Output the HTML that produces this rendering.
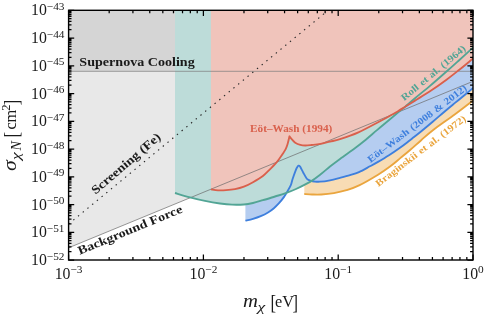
<!DOCTYPE html>
<html><head><meta charset="utf-8"><title>plot</title><style>html,body{margin:0;padding:0;background:#fff}svg{display:block}</style></head><body>
<svg width="486" height="317" viewBox="0 0 486 317">
<rect width="486" height="317" fill="#fff"/>
<defs><clipPath id="c"><rect x="68.6" y="10.3" width="404.4" height="249.7"/></clipPath></defs>
<g clip-path="url(#c)">
<path d="M68.6 247.8 L473 81.3333 L473 10.3 L68.6 10.3 Z" fill="#e8e8e8"/>
<rect x="68.6" y="10.3" width="404.4" height="61" fill="#d5d5d5"/>
<path d="M304.30 194.00 C305.58 194.08 309.17 194.42 312.00 194.50 C314.83 194.58 317.65 194.73 321.30 194.50 C324.95 194.27 329.70 193.82 333.90 193.10 C338.10 192.38 342.30 191.48 346.50 190.20 C350.70 188.92 353.85 187.98 359.10 185.40 C364.35 182.82 372.85 177.85 378.00 174.70 C383.15 171.55 386.33 169.22 390.00 166.50 C393.67 163.78 396.65 161.15 400.00 158.40 C403.35 155.65 406.57 153.03 410.10 150.00 C413.63 146.97 417.40 143.50 421.20 140.20 C425.00 136.90 427.27 134.52 432.90 130.20 C438.53 125.88 448.28 119.27 455.00 114.30 C461.72 109.33 470.17 102.72 473.20 100.40 L473.00 10.30 L304.30 10.30 Z" fill="#f8dcb4"/>
<path d="M245.40 220.70 C246.67 220.40 250.45 219.65 253.00 218.90 C255.55 218.15 258.20 217.27 260.70 216.20 C263.20 215.13 265.80 213.83 268.00 212.50 C270.20 211.17 272.07 209.75 273.90 208.20 C275.73 206.65 277.37 205.00 279.00 203.20 C280.63 201.40 282.48 199.07 283.70 197.40 C284.92 195.73 285.13 195.20 286.30 193.20 C287.47 191.20 289.65 187.77 290.70 185.40 C291.75 183.03 291.75 181.55 292.60 179.00 C293.45 176.45 295.00 172.12 295.80 170.10 C296.60 168.08 296.98 167.63 297.40 166.90 C297.82 166.17 298.15 165.90 298.30 165.70 C298.47 165.72 298.98 165.62 299.30 165.80 C299.62 165.98 299.53 165.65 300.20 166.80 C300.87 167.95 302.25 170.78 303.30 172.70 C304.35 174.62 305.63 177.10 306.50 178.30 C307.37 179.50 307.75 179.47 308.50 179.90 C309.25 180.33 310.07 180.63 311.00 180.90 C311.93 181.17 312.60 181.37 314.10 181.50 C315.60 181.63 317.35 181.90 320.00 181.70 C322.65 181.50 326.67 180.93 330.00 180.30 C333.33 179.67 336.67 178.75 340.00 177.90 C343.33 177.05 346.83 176.17 350.00 175.20 C353.17 174.23 355.67 173.58 359.00 172.10 C362.33 170.62 366.83 168.00 370.00 166.30 C373.17 164.60 374.83 163.73 378.00 161.90 C381.17 160.07 385.33 157.65 389.00 155.30 C392.67 152.95 396.83 150.05 400.00 147.80 C403.17 145.55 405.67 143.60 408.00 141.80 C410.33 140.00 411.83 138.72 414.00 137.00 C416.17 135.28 417.83 134.08 421.00 131.50 C424.17 128.92 429.00 124.88 433.00 121.50 C437.00 118.12 441.33 114.30 445.00 111.20 C448.67 108.10 451.67 105.65 455.00 102.90 C458.33 100.15 461.97 97.18 465.00 94.70 C468.03 92.22 471.83 89.12 473.20 88.00 L473.00 10.30 L245.40 10.30 Z" fill="#b5cdf0"/>
<path d="M175.00 193.00 C177.50 193.72 185.00 195.98 190.00 197.30 C195.00 198.62 200.00 199.87 205.00 200.90 C210.00 201.93 215.50 202.87 220.00 203.50 C224.50 204.13 228.02 204.53 232.00 204.70 C235.98 204.87 240.40 204.78 243.90 204.50 C247.40 204.22 249.83 203.72 253.00 203.00 C256.17 202.28 259.23 201.28 262.90 200.20 C266.57 199.12 271.32 197.63 275.00 196.50 C278.68 195.37 281.50 194.65 285.00 193.40 C288.50 192.15 291.75 190.97 296.00 189.00 C300.25 187.03 306.28 184.13 310.50 181.60 C314.72 179.07 318.05 176.32 321.30 173.80 C324.55 171.28 326.88 168.98 330.00 166.50 C333.12 164.02 335.80 161.98 340.00 158.90 C344.20 155.82 351.17 150.98 355.20 148.00 C359.23 145.02 360.52 144.02 364.20 141.00 C367.88 137.98 373.00 133.52 377.30 129.90 C381.60 126.28 386.22 122.47 390.00 119.30 C393.78 116.13 397.47 113.02 400.00 110.90 C402.53 108.78 402.70 108.72 405.20 106.60 C407.70 104.48 410.87 101.65 415.00 98.20 C419.13 94.75 424.75 90.35 430.00 85.90 C435.25 81.45 441.65 75.78 446.50 71.50 C451.35 67.22 454.65 64.22 459.10 60.20 C463.55 56.18 470.85 49.53 473.20 47.40 L473.00 10.30 L175.00 10.30 Z" fill="#bddcd9"/>
<path d="M210.90 189.40 C212.08 189.55 215.48 190.17 218.00 190.30 C220.52 190.43 223.17 190.38 226.00 190.20 C228.83 190.02 232.02 189.78 235.00 189.20 C237.98 188.62 240.90 187.87 243.90 186.70 C246.90 185.53 249.83 183.98 253.00 182.20 C256.17 180.42 260.08 178.15 262.90 176.00 C265.72 173.85 267.88 171.27 269.90 169.30 C271.92 167.33 273.48 165.88 275.00 164.20 C276.52 162.52 277.73 160.90 279.00 159.20 C280.27 157.50 281.47 155.73 282.60 154.00 C283.73 152.27 284.97 150.47 285.80 148.80 C286.63 147.13 286.98 146.08 287.60 144.00 C288.22 141.92 289.18 137.58 289.50 136.30 C289.68 136.57 290.17 137.35 290.60 137.90 C291.03 138.45 291.33 138.80 292.10 139.60 C292.87 140.40 293.83 141.82 295.20 142.70 C296.57 143.58 298.62 144.43 300.30 144.90 C301.98 145.37 303.42 145.48 305.30 145.50 C307.18 145.52 309.08 145.27 311.60 145.00 C314.12 144.73 317.33 144.47 320.40 143.90 C323.47 143.33 326.73 142.38 330.00 141.60 C333.27 140.82 335.27 140.75 340.00 139.20 C344.73 137.65 351.73 135.30 358.40 132.30 C365.07 129.30 374.73 123.95 380.00 121.20 C385.27 118.45 387.00 117.47 390.00 115.80 C393.00 114.13 395.47 112.72 398.00 111.20 C400.53 109.68 402.37 108.47 405.20 106.70 C408.03 104.93 410.87 103.17 415.00 100.60 C419.13 98.03 424.75 94.78 430.00 91.30 C435.25 87.82 441.67 83.25 446.50 79.70 C451.33 76.15 455.22 73.00 459.00 70.00 C462.78 67.00 466.83 63.63 469.20 61.70 C471.57 59.77 472.53 58.95 473.20 58.40 L473.00 10.30 L210.90 10.30 Z" fill="#f0c4bb"/>
<line x1="68.6" y1="71.3" x2="473" y2="71.3" stroke="#7a7a7a" stroke-width="0.7"/>
<line x1="68.6" y1="247.8" x2="473" y2="81.3333" stroke="#6a6a6a" stroke-width="0.7"/>
<line x1="68.6" y1="224" x2="328.172" y2="10.3" stroke="#2a2a2a" stroke-width="1.15" stroke-dasharray="1.4 4.7"/>
<path d="M304.30 194.00 C305.58 194.08 309.17 194.42 312.00 194.50 C314.83 194.58 317.65 194.73 321.30 194.50 C324.95 194.27 329.70 193.82 333.90 193.10 C338.10 192.38 342.30 191.48 346.50 190.20 C350.70 188.92 353.85 187.98 359.10 185.40 C364.35 182.82 372.85 177.85 378.00 174.70 C383.15 171.55 386.33 169.22 390.00 166.50 C393.67 163.78 396.65 161.15 400.00 158.40 C403.35 155.65 406.57 153.03 410.10 150.00 C413.63 146.97 417.40 143.50 421.20 140.20 C425.00 136.90 427.27 134.52 432.90 130.20 C438.53 125.88 448.28 119.27 455.00 114.30 C461.72 109.33 470.17 102.72 473.20 100.40" fill="none" stroke="#eaa53e" stroke-width="1.85" stroke-linejoin="round"/>
<path d="M245.40 220.70 C246.67 220.40 250.45 219.65 253.00 218.90 C255.55 218.15 258.20 217.27 260.70 216.20 C263.20 215.13 265.80 213.83 268.00 212.50 C270.20 211.17 272.07 209.75 273.90 208.20 C275.73 206.65 277.37 205.00 279.00 203.20 C280.63 201.40 282.48 199.07 283.70 197.40 C284.92 195.73 285.13 195.20 286.30 193.20 C287.47 191.20 289.65 187.77 290.70 185.40 C291.75 183.03 291.75 181.55 292.60 179.00 C293.45 176.45 295.00 172.12 295.80 170.10 C296.60 168.08 296.98 167.63 297.40 166.90 C297.82 166.17 298.15 165.90 298.30 165.70 C298.47 165.72 298.98 165.62 299.30 165.80 C299.62 165.98 299.53 165.65 300.20 166.80 C300.87 167.95 302.25 170.78 303.30 172.70 C304.35 174.62 305.63 177.10 306.50 178.30 C307.37 179.50 307.75 179.47 308.50 179.90 C309.25 180.33 310.07 180.63 311.00 180.90 C311.93 181.17 312.60 181.37 314.10 181.50 C315.60 181.63 317.35 181.90 320.00 181.70 C322.65 181.50 326.67 180.93 330.00 180.30 C333.33 179.67 336.67 178.75 340.00 177.90 C343.33 177.05 346.83 176.17 350.00 175.20 C353.17 174.23 355.67 173.58 359.00 172.10 C362.33 170.62 366.83 168.00 370.00 166.30 C373.17 164.60 374.83 163.73 378.00 161.90 C381.17 160.07 385.33 157.65 389.00 155.30 C392.67 152.95 396.83 150.05 400.00 147.80 C403.17 145.55 405.67 143.60 408.00 141.80 C410.33 140.00 411.83 138.72 414.00 137.00 C416.17 135.28 417.83 134.08 421.00 131.50 C424.17 128.92 429.00 124.88 433.00 121.50 C437.00 118.12 441.33 114.30 445.00 111.20 C448.67 108.10 451.67 105.65 455.00 102.90 C458.33 100.15 461.97 97.18 465.00 94.70 C468.03 92.22 471.83 89.12 473.20 88.00" fill="none" stroke="#3e7fdd" stroke-width="1.85" stroke-linejoin="round"/>
<path d="M175.00 193.00 C177.50 193.72 185.00 195.98 190.00 197.30 C195.00 198.62 200.00 199.87 205.00 200.90 C210.00 201.93 215.50 202.87 220.00 203.50 C224.50 204.13 228.02 204.53 232.00 204.70 C235.98 204.87 240.40 204.78 243.90 204.50 C247.40 204.22 249.83 203.72 253.00 203.00 C256.17 202.28 259.23 201.28 262.90 200.20 C266.57 199.12 271.32 197.63 275.00 196.50 C278.68 195.37 281.50 194.65 285.00 193.40 C288.50 192.15 291.75 190.97 296.00 189.00 C300.25 187.03 306.28 184.13 310.50 181.60 C314.72 179.07 318.05 176.32 321.30 173.80 C324.55 171.28 326.88 168.98 330.00 166.50 C333.12 164.02 335.80 161.98 340.00 158.90 C344.20 155.82 351.17 150.98 355.20 148.00 C359.23 145.02 360.52 144.02 364.20 141.00 C367.88 137.98 373.00 133.52 377.30 129.90 C381.60 126.28 386.22 122.47 390.00 119.30 C393.78 116.13 397.47 113.02 400.00 110.90 C402.53 108.78 402.70 108.72 405.20 106.60 C407.70 104.48 410.87 101.65 415.00 98.20 C419.13 94.75 424.75 90.35 430.00 85.90 C435.25 81.45 441.65 75.78 446.50 71.50 C451.35 67.22 454.65 64.22 459.10 60.20 C463.55 56.18 470.85 49.53 473.20 47.40" fill="none" stroke="#52a595" stroke-width="1.85" stroke-linejoin="round"/>
<path d="M210.90 189.40 C212.08 189.55 215.48 190.17 218.00 190.30 C220.52 190.43 223.17 190.38 226.00 190.20 C228.83 190.02 232.02 189.78 235.00 189.20 C237.98 188.62 240.90 187.87 243.90 186.70 C246.90 185.53 249.83 183.98 253.00 182.20 C256.17 180.42 260.08 178.15 262.90 176.00 C265.72 173.85 267.88 171.27 269.90 169.30 C271.92 167.33 273.48 165.88 275.00 164.20 C276.52 162.52 277.73 160.90 279.00 159.20 C280.27 157.50 281.47 155.73 282.60 154.00 C283.73 152.27 284.97 150.47 285.80 148.80 C286.63 147.13 286.98 146.08 287.60 144.00 C288.22 141.92 289.18 137.58 289.50 136.30 C289.68 136.57 290.17 137.35 290.60 137.90 C291.03 138.45 291.33 138.80 292.10 139.60 C292.87 140.40 293.83 141.82 295.20 142.70 C296.57 143.58 298.62 144.43 300.30 144.90 C301.98 145.37 303.42 145.48 305.30 145.50 C307.18 145.52 309.08 145.27 311.60 145.00 C314.12 144.73 317.33 144.47 320.40 143.90 C323.47 143.33 326.73 142.38 330.00 141.60 C333.27 140.82 335.27 140.75 340.00 139.20 C344.73 137.65 351.73 135.30 358.40 132.30 C365.07 129.30 374.73 123.95 380.00 121.20 C385.27 118.45 387.00 117.47 390.00 115.80 C393.00 114.13 395.47 112.72 398.00 111.20 C400.53 109.68 402.37 108.47 405.20 106.70 C408.03 104.93 410.87 103.17 415.00 100.60 C419.13 98.03 424.75 94.78 430.00 91.30 C435.25 87.82 441.67 83.25 446.50 79.70 C451.33 76.15 455.22 73.00 459.00 70.00 C462.78 67.00 466.83 63.63 469.20 61.70 C471.57 59.77 472.53 58.95 473.20 58.40" fill="none" stroke="#d9604c" stroke-width="1.85" stroke-linejoin="round"/>
</g>
<path d="M68.60 260 v-5.6 M68.60 10.3 v5.6 M109.18 260 v-2.9 M109.18 10.3 v2.9 M132.92 260 v-2.9 M132.92 10.3 v2.9 M149.76 260 v-2.9 M149.76 10.3 v2.9 M162.82 260 v-2.9 M162.82 10.3 v2.9 M173.49 260 v-2.9 M173.49 10.3 v2.9 M182.52 260 v-2.9 M182.52 10.3 v2.9 M190.34 260 v-2.9 M190.34 10.3 v2.9 M197.23 260 v-2.9 M197.23 10.3 v2.9 M203.40 260 v-5.6 M203.40 10.3 v5.6 M243.98 260 v-2.9 M243.98 10.3 v2.9 M267.72 260 v-2.9 M267.72 10.3 v2.9 M284.56 260 v-2.9 M284.56 10.3 v2.9 M297.62 260 v-2.9 M297.62 10.3 v2.9 M308.29 260 v-2.9 M308.29 10.3 v2.9 M317.32 260 v-2.9 M317.32 10.3 v2.9 M325.14 260 v-2.9 M325.14 10.3 v2.9 M332.03 260 v-2.9 M332.03 10.3 v2.9 M338.20 260 v-5.6 M338.20 10.3 v5.6 M378.78 260 v-2.9 M378.78 10.3 v2.9 M402.52 260 v-2.9 M402.52 10.3 v2.9 M419.36 260 v-2.9 M419.36 10.3 v2.9 M432.42 260 v-2.9 M432.42 10.3 v2.9 M443.09 260 v-2.9 M443.09 10.3 v2.9 M452.12 260 v-2.9 M452.12 10.3 v2.9 M459.94 260 v-2.9 M459.94 10.3 v2.9 M466.83 260 v-2.9 M466.83 10.3 v2.9 M473.00 260 v-5.6 M473.00 10.3 v5.6 M68.6 10.30 h5.6 M473 10.30 h-5.6 M68.6 29.69 h2.9 M473 29.69 h-2.9 M68.6 24.81 h2.9 M473 24.81 h-2.9 M68.6 21.34 h2.9 M473 21.34 h-2.9 M68.6 18.65 h2.9 M473 18.65 h-2.9 M68.6 16.46 h2.9 M473 16.46 h-2.9 M68.6 14.60 h2.9 M473 14.60 h-2.9 M68.6 12.99 h2.9 M473 12.99 h-2.9 M68.6 11.57 h2.9 M473 11.57 h-2.9 M68.6 38.04 h5.6 M473 38.04 h-5.6 M68.6 57.44 h2.9 M473 57.44 h-2.9 M68.6 52.55 h2.9 M473 52.55 h-2.9 M68.6 49.09 h2.9 M473 49.09 h-2.9 M68.6 46.40 h2.9 M473 46.40 h-2.9 M68.6 44.20 h2.9 M473 44.20 h-2.9 M68.6 42.34 h2.9 M473 42.34 h-2.9 M68.6 40.73 h2.9 M473 40.73 h-2.9 M68.6 39.31 h2.9 M473 39.31 h-2.9 M68.6 65.79 h5.6 M473 65.79 h-5.6 M68.6 85.18 h2.9 M473 85.18 h-2.9 M68.6 80.30 h2.9 M473 80.30 h-2.9 M68.6 76.83 h2.9 M473 76.83 h-2.9 M68.6 74.14 h2.9 M473 74.14 h-2.9 M68.6 71.94 h2.9 M473 71.94 h-2.9 M68.6 70.09 h2.9 M473 70.09 h-2.9 M68.6 68.48 h2.9 M473 68.48 h-2.9 M68.6 67.06 h2.9 M473 67.06 h-2.9 M68.6 93.53 h5.6 M473 93.53 h-5.6 M68.6 112.93 h2.9 M473 112.93 h-2.9 M68.6 108.04 h2.9 M473 108.04 h-2.9 M68.6 104.57 h2.9 M473 104.57 h-2.9 M68.6 101.89 h2.9 M473 101.89 h-2.9 M68.6 99.69 h2.9 M473 99.69 h-2.9 M68.6 97.83 h2.9 M473 97.83 h-2.9 M68.6 96.22 h2.9 M473 96.22 h-2.9 M68.6 94.80 h2.9 M473 94.80 h-2.9 M68.6 121.28 h5.6 M473 121.28 h-5.6 M68.6 140.67 h2.9 M473 140.67 h-2.9 M68.6 135.78 h2.9 M473 135.78 h-2.9 M68.6 132.32 h2.9 M473 132.32 h-2.9 M68.6 129.63 h2.9 M473 129.63 h-2.9 M68.6 127.43 h2.9 M473 127.43 h-2.9 M68.6 125.58 h2.9 M473 125.58 h-2.9 M68.6 123.97 h2.9 M473 123.97 h-2.9 M68.6 122.55 h2.9 M473 122.55 h-2.9 M68.6 149.02 h5.6 M473 149.02 h-5.6 M68.6 168.41 h2.9 M473 168.41 h-2.9 M68.6 163.53 h2.9 M473 163.53 h-2.9 M68.6 160.06 h2.9 M473 160.06 h-2.9 M68.6 157.37 h2.9 M473 157.37 h-2.9 M68.6 155.18 h2.9 M473 155.18 h-2.9 M68.6 153.32 h2.9 M473 153.32 h-2.9 M68.6 151.71 h2.9 M473 151.71 h-2.9 M68.6 150.29 h2.9 M473 150.29 h-2.9 M68.6 176.77 h5.6 M473 176.77 h-5.6 M68.6 196.16 h2.9 M473 196.16 h-2.9 M68.6 191.27 h2.9 M473 191.27 h-2.9 M68.6 187.81 h2.9 M473 187.81 h-2.9 M68.6 185.12 h2.9 M473 185.12 h-2.9 M68.6 182.92 h2.9 M473 182.92 h-2.9 M68.6 181.06 h2.9 M473 181.06 h-2.9 M68.6 179.46 h2.9 M473 179.46 h-2.9 M68.6 178.04 h2.9 M473 178.04 h-2.9 M68.6 204.51 h5.6 M473 204.51 h-5.6 M68.6 223.90 h2.9 M473 223.90 h-2.9 M68.6 219.02 h2.9 M473 219.02 h-2.9 M68.6 215.55 h2.9 M473 215.55 h-2.9 M68.6 212.86 h2.9 M473 212.86 h-2.9 M68.6 210.67 h2.9 M473 210.67 h-2.9 M68.6 208.81 h2.9 M473 208.81 h-2.9 M68.6 207.20 h2.9 M473 207.20 h-2.9 M68.6 205.78 h2.9 M473 205.78 h-2.9 M68.6 232.26 h5.6 M473 232.26 h-5.6 M68.6 251.65 h2.9 M473 251.65 h-2.9 M68.6 246.76 h2.9 M473 246.76 h-2.9 M68.6 243.30 h2.9 M473 243.30 h-2.9 M68.6 240.61 h2.9 M473 240.61 h-2.9 M68.6 238.41 h2.9 M473 238.41 h-2.9 M68.6 236.55 h2.9 M473 236.55 h-2.9 M68.6 234.94 h2.9 M473 234.94 h-2.9 M68.6 233.53 h2.9 M473 233.53 h-2.9 M68.6 260.00 h5.6 M473 260.00 h-5.6" stroke="#000" stroke-width="1.25" fill="none"/>
<rect x="68.6" y="10.3" width="404.4" height="249.7" fill="none" stroke="#000" stroke-width="1.4"/>
<g font-family="'Liberation Serif', serif" fill="#1a1a1a">
<text x="64.5" y="15.30" text-anchor="end" font-size="15.8">10<tspan font-size="11.3" dy="-5.3">−43</tspan></text>
<text x="64.5" y="43.04" text-anchor="end" font-size="15.8">10<tspan font-size="11.3" dy="-5.3">−44</tspan></text>
<text x="64.5" y="70.79" text-anchor="end" font-size="15.8">10<tspan font-size="11.3" dy="-5.3">−45</tspan></text>
<text x="64.5" y="98.53" text-anchor="end" font-size="15.8">10<tspan font-size="11.3" dy="-5.3">−46</tspan></text>
<text x="64.5" y="126.28" text-anchor="end" font-size="15.8">10<tspan font-size="11.3" dy="-5.3">−47</tspan></text>
<text x="64.5" y="154.02" text-anchor="end" font-size="15.8">10<tspan font-size="11.3" dy="-5.3">−48</tspan></text>
<text x="64.5" y="181.77" text-anchor="end" font-size="15.8">10<tspan font-size="11.3" dy="-5.3">−49</tspan></text>
<text x="64.5" y="209.51" text-anchor="end" font-size="15.8">10<tspan font-size="11.3" dy="-5.3">−50</tspan></text>
<text x="64.5" y="237.26" text-anchor="end" font-size="15.8">10<tspan font-size="11.3" dy="-5.3">−51</tspan></text>
<text x="64.5" y="265.00" text-anchor="end" font-size="15.8">10<tspan font-size="11.3" dy="-5.3">−52</tspan></text>
<text x="68.60" y="278.5" text-anchor="middle" font-size="15.8">10<tspan font-size="11.3" dy="-5.3">−3</tspan></text>
<text x="203.40" y="278.5" text-anchor="middle" font-size="15.8">10<tspan font-size="11.3" dy="-5.3">−2</tspan></text>
<text x="338.20" y="278.5" text-anchor="middle" font-size="15.8">10<tspan font-size="11.3" dy="-5.3">−1</tspan></text>
<text x="473.00" y="278.5" text-anchor="middle" font-size="15.8">10<tspan font-size="11.3" dy="-5.3">0</tspan></text>
<text transform="translate(243.00,306.80) scale(1.120,1.000)" font-size="18.5" font-style="italic">m</text>
<text transform="translate(257.60,310.60) scale(1.400,1.000)" font-size="12.5" font-style="italic">χ</text>
<text transform="translate(270.40,308.60) scale(0.950,1.200)" font-size="17.5">[</text>
<text transform="translate(275.00,306.80) scale(0.970,1.000)" font-size="16.8">eV</text>
<text transform="translate(292.60,308.60) scale(0.950,1.200)" font-size="17.5">]</text>
<g transform="translate(16.4,169.6) rotate(-90)">
<text transform="translate(-1.50,0.00) scale(1.150,1.000)" font-size="19" font-style="italic">σ</text>
<text transform="translate(9.60,3.60) scale(1.400,1.000)" font-size="12.5" font-style="italic">χ</text>
<text transform="translate(19.00,4.60) scale(1.000,1.000)" font-size="14" font-style="italic">N</text>
<text transform="translate(32.00,1.60) scale(0.950,1.200)" font-size="17.5">[</text>
<text transform="translate(40.00,0.00) scale(0.970,1.000)" font-size="16.8">cm</text>
<text transform="translate(58.80,-6.60) scale(1.000,1.000)" font-size="12.5">2</text>
<text transform="translate(64.30,1.60) scale(0.950,1.200)" font-size="17.5">]</text>
</g>
<text transform="translate(79.3,65.8) scale(1.165,1)" text-anchor="start" font-size="12.1" font-weight="bold">Supernova Cooling</text>
<text transform="translate(128.5,166.5) rotate(-40.5) scale(1.165,1)" text-anchor="middle" font-size="12.1" font-weight="bold">Screening (Fe)</text>
<text transform="translate(131.5,233.5) rotate(-22.4) scale(1.165,1)" text-anchor="middle" font-size="12.1" font-weight="bold">Background Force</text>
<text transform="translate(291.2,132) scale(1.16,1)" text-anchor="middle" font-size="9.7" font-weight="bold" fill="#d9604c">Eöt–Wash (1994)</text>
<text transform="translate(435.4,75.4) rotate(-39.8) scale(1.16,1)" text-anchor="middle" font-size="9.7" font-weight="bold" word-spacing="0.6" fill="#52a595">Roll et al. (1964)</text>
<text transform="translate(419.1,126.1) rotate(-37.2) scale(1.16,1)" text-anchor="middle" font-size="9.7" font-weight="bold" word-spacing="0.6" fill="#3e7fdd">Eöt–Wash (2008 &amp; 2012)</text>
<text transform="translate(422.6,153.4) rotate(-37.2) scale(1.16,1)" text-anchor="middle" font-size="9.7" font-weight="bold" word-spacing="0.6" fill="#eaa53e">Braginskii et al. (1972)</text>
</g>
</svg>
</body></html>
